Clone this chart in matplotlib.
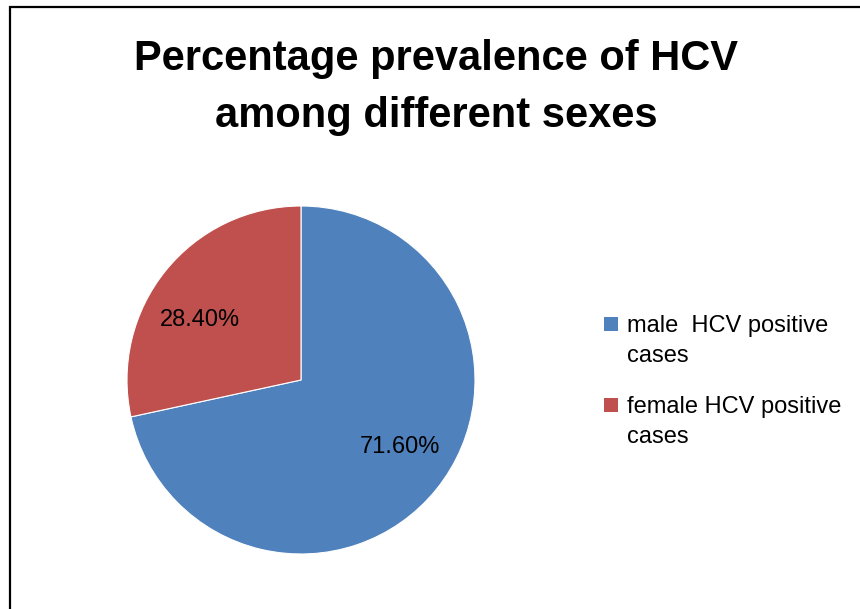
import matplotlib.pyplot as plt
from matplotlib.patches import Rectangle

labels = ['male  HCV positive\ncases', 'female HCV positive\ncases']
shares = [71.6, 28.4]
colors = ['#4F81BD', '#C0504D']

plt.rcParams['font.family'] = ['Liberation Sans', 'DejaVu Sans']

W, H = 860, 609
fig = plt.figure(figsize=(W / 100, H / 100), dpi=100)

# frame around the chart area (cut off at right and bottom)
fig.patches.append(Rectangle((10 / W, -0.2), 1.5, 1.2 - 7 / H, transform=fig.transFigure,
                             fill=False, edgecolor='black', linewidth=1.6))

fig.text(436 / W, 1 - 39 / H, 'Percentage prevalence of HCV\namong different sexes',
         ha='center', va='top', fontsize=30, fontweight='bold', linespacing=1.55)

r = 174
cx, cy = 301, H - 380
ax = fig.add_axes([(cx - r) / W, (cy - r) / H, 2 * r / W, 2 * r / H])
wedges, texts, autotexts = ax.pie(shares, colors=colors, startangle=90, counterclock=False,
                                  autopct='%.2f%%', pctdistance=0.68,
                                  textprops={'fontsize': 17, 'color': 'black'},
                                  wedgeprops={'linewidth': 0.8, 'edgecolor': 'white'})
ax.set_xlim(-1, 1)
ax.set_ylim(-1, 1)
# Excel-style best-fit label spots
autotexts[0].set_position((0.57, -0.385))
autotexts[1].set_position((-0.58, 0.345))

# legend, square beside the first line of each entry
for i, (lab, col) in enumerate(zip(labels, colors)):
    y = 324 + i * 81
    fig.patches.append(Rectangle((604 / W, 1 - (y + 7) / H), 14 / W, 14 / H,
                                 transform=fig.transFigure, facecolor=col, edgecolor='none'))
    fig.text(627 / W, 1 - (y + 17) / H, lab, ha='left', va='center', fontsize=17,
             linespacing=1.5)

plt.savefig('out.png', dpi=100)
